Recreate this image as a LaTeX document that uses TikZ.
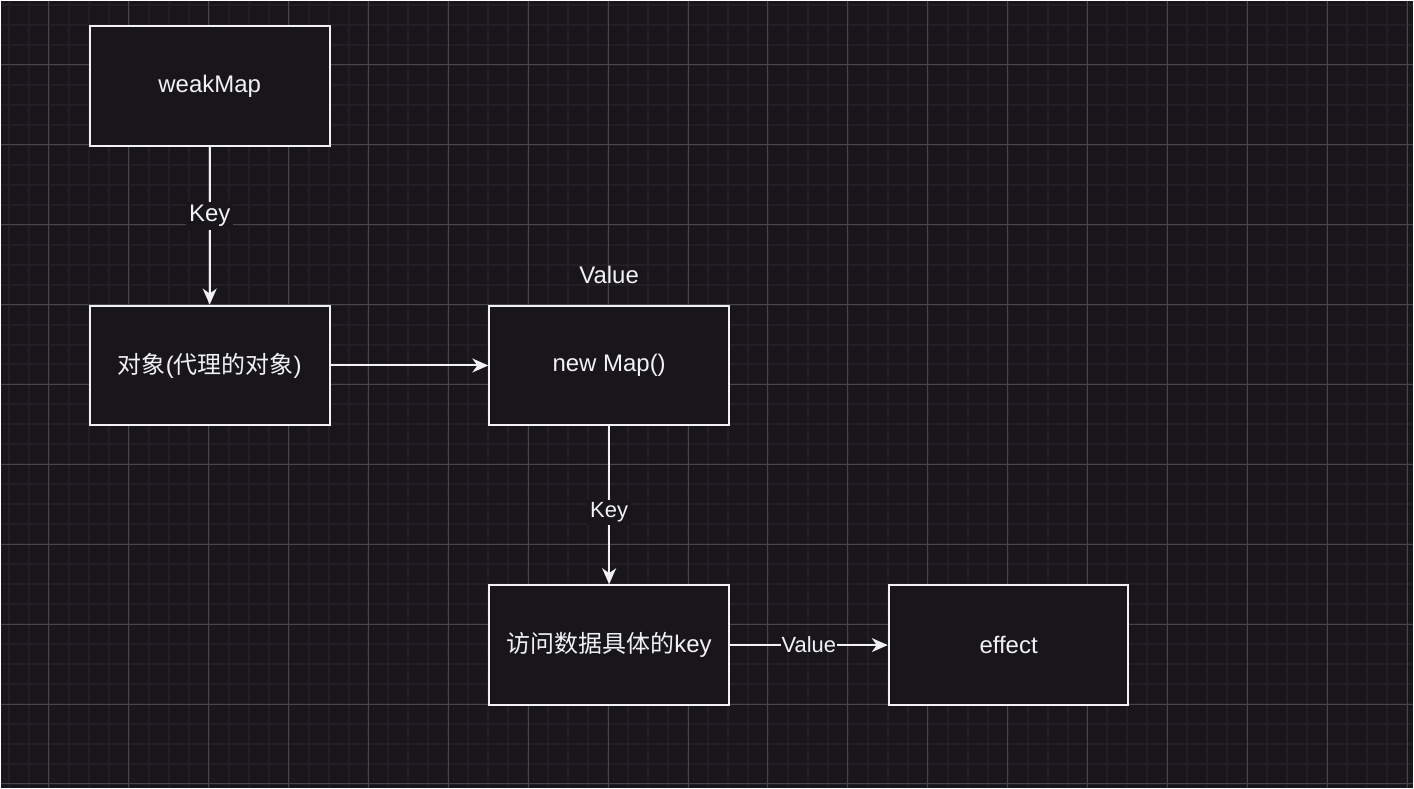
\documentclass[tikz,border=0pt]{standalone}
\usepackage{fontspec}
\setmainfont{Liberation Sans}
\newfontfamily\cjk{Noto Sans CJK SC}
\usepackage{tikz}
\usetikzlibrary{arrows.meta}

\definecolor{bg}{HTML}{18161B}
\definecolor{gridminor}{HTML}{211F25}
\definecolor{gridmajor}{HTML}{47464B}
\definecolor{ink}{HTML}{F2F2F2}

\tikzset{
  box/.style={draw=ink, line width=1pt, fill=bg, minimum width=120pt, minimum height=60pt,
    inner sep=0pt, text=ink, font=\fontsize{12}{14}\selectfont},
  link/.style={draw=ink, line width=1pt, -{Stealth[length=8pt,width=7pt,inset=2.5pt]}},
  lbl/.style={fill=bg, text=ink, inner sep=1.5pt, font=\fontsize{12}{14}\selectfont},
}

\begin{document}
\begin{tikzpicture}[x=0.5pt, y=-0.5pt]
\fill[bg] (0,0) rectangle (1414,788);
% grid
\foreach \x in {8,28,...,1408} \draw[gridminor, line width=1pt] (\x,0) -- (\x,788);
\foreach \y in {4,24,...,784} \draw[gridminor, line width=1pt] (0,\y) -- (1414,\y);
\foreach \x in {48,128,...,1408} \draw[gridmajor, line width=0.5pt] (\x,0) -- (\x,788);
\foreach \y in {64,144,...,784} \draw[gridmajor, line width=0.5pt] (0,\y) -- (1414,\y);

% boxes
\node[box] (weakmap) at (209,85) {weakMap};
\node[box] (target) at (209,365) {{\cjk 对象}({\cjk 代理的对象})};
\node[box] (newmap) at (609,365) {new Map()};
\node[box] (propkey) at (609,645) {{\cjk 访问数据具体的}key};
\node[box] (effect) at (1009,645) {effect};
\node[text=ink, font=\fontsize{12}{14}\selectfont] (valtop) at (609,274) {Value};

% links
\draw[link] (weakmap) -- node[lbl, pos=0.44]{Key} (target);
\draw[link] (target) -- (newmap);
\draw[link] (newmap) -- node[lbl, pos=0.545, font=\fontsize{11}{13}\selectfont]{Key} (propkey);
\draw[link] (propkey) -- node[lbl, inner sep=0.5pt, font=\fontsize{11}{13}\selectfont]{Value} (effect);
\end{tikzpicture}
\end{document}
